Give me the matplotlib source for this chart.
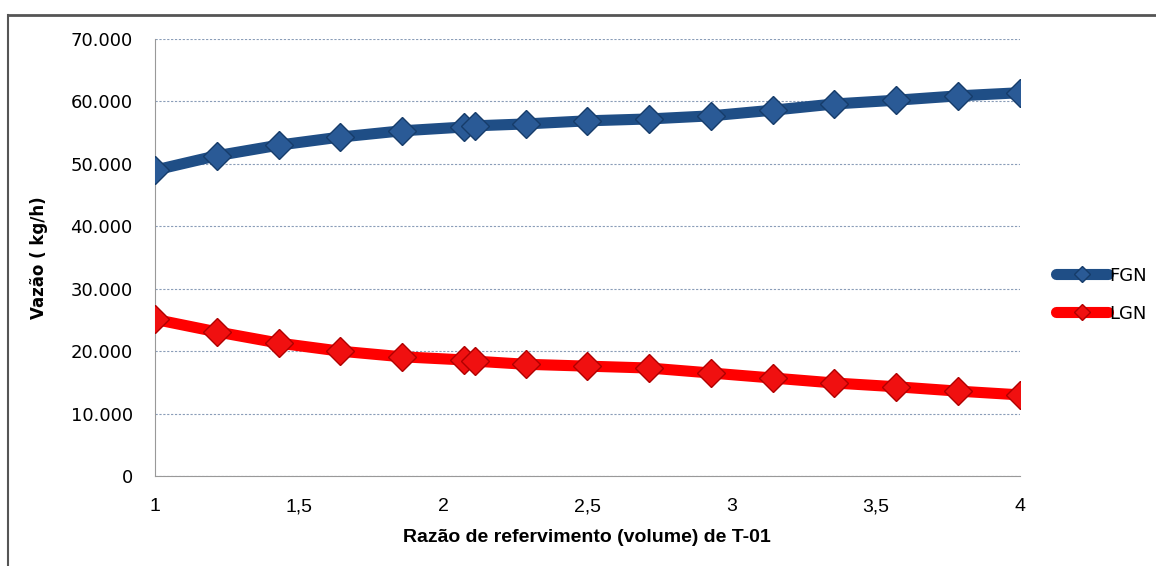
import numpy as np
import matplotlib.pyplot as plt
from matplotlib.lines import Line2D
from matplotlib.ticker import FuncFormatter

# dados
razao = [1.0, 1.214, 1.429, 1.643, 1.857, 2.071, 2.11, 2.286, 2.5, 2.714,
         2.929, 3.143, 3.357, 3.571, 3.786, 4.0]
fgn = [49000, 51300, 53000, 54300, 55300, 55900, 56100, 56400, 56900, 57200,
       57700, 58600, 59600, 60200, 60900, 61400]
lgn = [25100, 23100, 21300, 20000, 19100, 18600, 18400, 17900, 17600, 17300,
       16500, 15700, 14900, 14300, 13600, 13000]

x_ticks = [1, 1.5, 2, 2.5, 3, 3.5, 4]
x_ticklabels = ["1", "1,5", "2", "2,5", "3", "3,5", "4"]
y_ticks = [0, 10000, 20000, 30000, 40000, 50000, 60000, 70000]

azul = "#1F4E86"
vermelho = "#FF0000"

fig = plt.figure(figsize=(11.56, 5.66), dpi=100)
ax = fig.add_axes([0.134, 0.159, 0.748, 0.772])

ax.plot(razao, fgn, color=azul, lw=8, marker="D", ms=14, mfc="#2A5A96",
        mec="#163C6A", mew=1, solid_capstyle="round", label="FGN", zorder=3)
ax.plot(razao, lgn, color=vermelho, lw=8, marker="D", ms=14, mfc="#F01010",
        mec="#B00000", mew=1, solid_capstyle="round", label="LGN", zorder=3)

ax.set_xlim(1, 4)
ax.set_ylim(0, 70000)
ax.set_xticks(x_ticks)
ax.set_xticklabels(x_ticklabels, fontsize=14, family="Liberation Sans")
ax.set_yticks(y_ticks)
ax.yaxis.set_major_formatter(FuncFormatter(lambda v, p: "0" if v == 0 else f"{int(v):,}".replace(",", ".")))
ax.tick_params(axis="y", labelsize=13, length=0, pad=16)
ax.tick_params(axis="x", length=0, pad=16)
for lbl in ax.get_yticklabels():
    lbl.set_family("DejaVu Sans")

ax.grid(axis="y", color="#8A9DB8", ls=(0, (2, 1.5)), lw=0.8)
ax.set_axisbelow(True)
for s in ["top", "right"]:
    ax.spines[s].set_visible(False)
ax.spines["left"].set_color("#999999")
ax.spines["bottom"].set_color("#999999")

ax.set_xlabel("Razão de refervimento (volume) de T-01", fontsize=14,
              fontweight="bold", family="Liberation Sans", labelpad=10)
ax.set_ylabel("Vazão ( kg/h)", fontsize=12, fontweight="bold", labelpad=16)

leg = ax.legend(loc="center left", bbox_to_anchor=(1.042, 0.415), frameon=False,
                fontsize=13, handlelength=2.9, handletextpad=0.05,
                labelspacing=1.1, markerscale=0.6, borderpad=0, borderaxespad=0)

# moldura
fig.add_artist(Line2D([8 / 1156, 1], [1 - 15 / 566, 1 - 15 / 566], color="#555555", lw=2))
fig.add_artist(Line2D([8 / 1156, 8 / 1156], [0, 1 - 15 / 566], color="#555555", lw=1.5))

plt.savefig("out.png", dpi=100)
